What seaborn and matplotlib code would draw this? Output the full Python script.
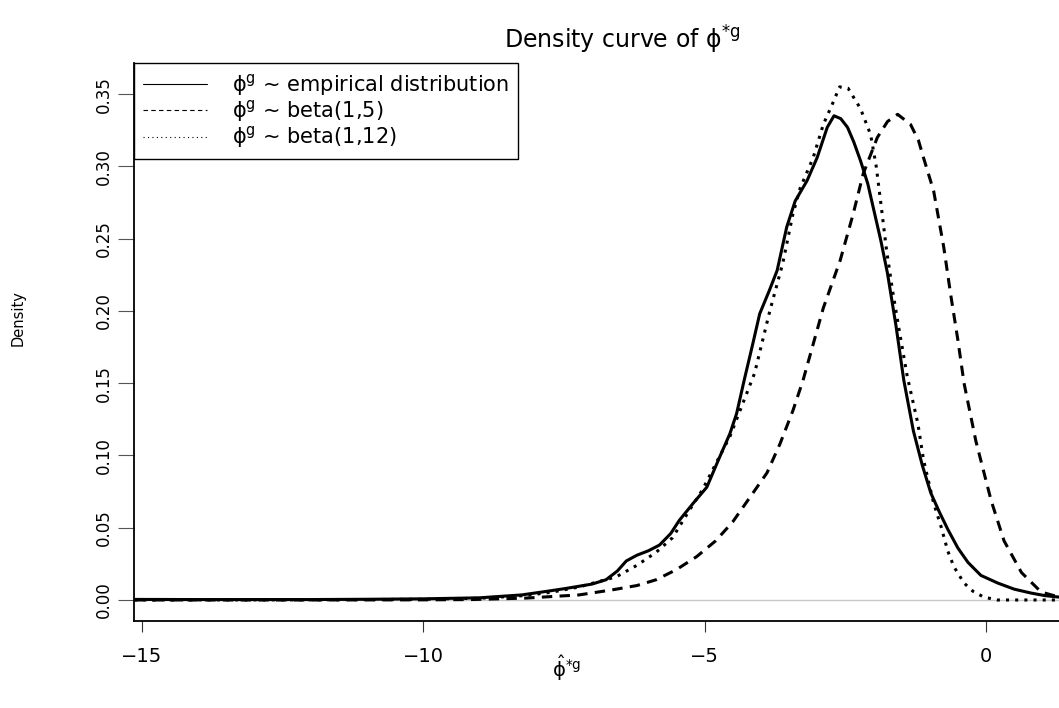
import numpy as np
import pandas as pd
import matplotlib
matplotlib.use("Agg")
import matplotlib.pyplot as plt
from matplotlib.lines import Line2D
import seaborn as sns

# Density of phi*g under the empirical prior
empirical_x = [-15.13, -14.0, -13.0, -12.0, -11.0, -10.0, -9.0, -8.25, -7.8, -7.46,
               -7.0, -6.75, -6.55, -6.39, -6.2, -6.0, -5.8, -5.6, -5.45, -5.2,
               -4.96, -4.73, -4.55, -4.43, -4.29, -4.15, -4.02, -3.85, -3.71, -3.54,
               -3.39, -3.18, -3.0, -2.82, -2.7, -2.58, -2.46, -2.35, -2.23, -2.1,
               -2.0, -1.87, -1.75, -1.6, -1.46, -1.29, -1.13, -0.98, -0.83, -0.68,
               -0.5, -0.32, -0.09, 0.21, 0.5, 0.8, 1.05, 1.3]
empirical_y = [0.0004, 0.0003, 0.0003, 0.0003, 0.0005, 0.0008, 0.0015, 0.0035, 0.006, 0.008,
               0.011, 0.014, 0.020, 0.027, 0.031, 0.034, 0.038, 0.046, 0.055, 0.067,
               0.078, 0.099, 0.115, 0.129, 0.153, 0.176, 0.198, 0.214, 0.228, 0.258,
               0.276, 0.290, 0.306, 0.327, 0.335, 0.333, 0.327, 0.317, 0.304, 0.288,
               0.271, 0.249, 0.226, 0.190, 0.152, 0.117, 0.093, 0.074, 0.061, 0.049,
               0.036, 0.026, 0.017, 0.0117, 0.0075, 0.0048, 0.003, 0.002]

# Density under a beta(1,5) prior
beta5_x = [-15.13, -12.0, -10.0, -9.14, -8.18, -7.23, -6.64, -6.2, -5.86, -5.5,
           -5.14, -4.8, -4.5, -4.14, -3.89, -3.66, -3.43, -3.25, -3.07, -2.89,
           -2.59, -2.36, -2.18, -1.93, -1.75, -1.57, -1.34, -1.2, -1.11, -0.93,
           -0.75, -0.63, -0.5, -0.39, -0.18, 0.09, 0.32, 0.63, 0.98, 1.3]
beta5_y = [0.0, 0.0, 0.0001, 0.0003, 0.0013, 0.0035, 0.007, 0.010, 0.014, 0.021,
           0.030, 0.041, 0.054, 0.074, 0.088, 0.108, 0.131, 0.152, 0.177, 0.202,
           0.235, 0.267, 0.295, 0.320, 0.331, 0.336, 0.329, 0.318, 0.306, 0.283,
           0.244, 0.212, 0.180, 0.150, 0.110, 0.069, 0.041, 0.019, 0.0055, 0.002]

# Density under a beta(1,12) prior
beta12_x = [-15.13, -12.0, -10.0, -9.0, -8.2, -7.7, -7.23, -6.57, -6.2, -5.86,
            -5.57, -5.27, -5.04, -4.79, -4.55, -4.32, -4.11, -3.84, -3.61, -3.43,
            -3.3, -3.07, -2.89, -2.73, -2.6, -2.45, -2.23, -2.05, -1.95, -1.86,
            -1.77, -1.66, -1.53, -1.40, -1.21, -1.11, -0.93, -0.8, -0.68, -0.57,
            -0.39, -0.23, -0.04, 0.2, 1.3]
beta12_y = [0.0, 0.0001, 0.0005, 0.0012, 0.003, 0.0055, 0.009, 0.016, 0.024, 0.033,
            0.043, 0.062, 0.076, 0.095, 0.113, 0.136, 0.157, 0.200, 0.233, 0.267,
            0.285, 0.306, 0.329, 0.343, 0.355, 0.354, 0.340, 0.322, 0.300, 0.272,
            0.243, 0.214, 0.184, 0.155, 0.122, 0.097, 0.067, 0.051, 0.034, 0.023,
            0.0117, 0.006, 0.002, 0.0, 0.0]

x_ticks = [-15, -10, -5, 0]
y_ticks = [0.00, 0.05, 0.10, 0.15, 0.20, 0.25, 0.30, 0.35]
legend_labels = [r"$\mathrm{\phi}^{\mathrm{g}}$ ~ empirical distribution",
                 r"$\mathrm{\phi}^{\mathrm{g}}$ ~ beta(1,5)",
                 r"$\mathrm{\phi}^{\mathrm{g}}$ ~ beta(1,12)"]

sns.set_style("white")
plt.rcParams["font.family"] = ["DejaVu Sans"]
plt.rcParams["mathtext.fontset"] = "dejavusans"
plt.rcParams["text.color"] = "black"
plt.rcParams["xtick.color"] = "black"
plt.rcParams["ytick.color"] = "black"

W, H = 1059, 708
fig = plt.figure(figsize=(W / 100, H / 100), dpi=100)
ax = fig.add_axes([134.3 / W, 1 - 620.7 / H, 1 - 134.3 / W, (620.7 - 63.3) / H])

ax.axhline(0, color="#c8c8c8", lw=1.0, zorder=1)

lw = 2.2
sns.lineplot(x=empirical_x, y=empirical_y, ax=ax, color="black", lw=lw,
             legend=False, zorder=3)
sns.lineplot(x=beta5_x, y=beta5_y, ax=ax, color="black", lw=lw,
             legend=False, zorder=3, linestyle=(0, (3.4, 2.4)))
sns.lineplot(x=beta12_x, y=beta12_y, ax=ax, color="black", lw=lw,
             legend=False, zorder=3, linestyle=(0, (1.0, 2.0)))

ax.set_xlim(-15.13, 1.297)
ax.set_ylim(-0.01433, 0.3713)
ax.set_xticks(x_ticks)
ax.set_xticklabels([f"\u2212{abs(t)}" if t < 0 else f"{t}" for t in x_ticks])
ax.set_yticks(y_ticks)
ax.set_yticklabels([f"{t:.2f}" for t in y_ticks], rotation=90, va="center")
ax.set_xlabel("")
ax.set_ylabel("")

for side in ("top", "right"):
    ax.spines[side].set_visible(False)
for side in ("left", "bottom"):
    ax.spines[side].set_color("black")
    ax.spines[side].set_linewidth(1.3)

ax.tick_params(axis="x", bottom=True, direction="out", length=8, width=0.8,
               color="#333333", labelcolor="black", labelsize=14, pad=11)
ax.tick_params(axis="y", left=True, direction="out", length=11.5, width=0.8,
               color="#555555", labelcolor="black", labelsize=12, pad=4)
ax.grid(False)

handles = [Line2D([], [], color="black", lw=0.8),
           Line2D([], [], color="black", lw=0.8, linestyle=(0, (4, 3))),
           Line2D([], [], color="black", lw=0.8, linestyle=(0, (1, 3)))]
leg = ax.legend(handles, legend_labels, loc="upper left", bbox_to_anchor=(0, 1),
                borderaxespad=0, fontsize=15, frameon=True, fancybox=False,
                framealpha=1, edgecolor="black", handlelength=3.1,
                handletextpad=1.2, borderpad=0.4, labelspacing=0.02)
leg.get_frame().set_linewidth(1.0)
for t in leg.get_texts():
    t.set_color("black")

fig.text(622 / W, 1 - 40 / H, r"Density curve of $\mathrm{\phi}^{\mathrm{*g}}$",
         ha="center", va="center", fontsize=17)
fig.text(567 / W, 1 - 668 / H, r"$\hat{\mathrm{\phi}}^{\mathrm{*g}}$",
         ha="center", va="center", fontsize=14)
fig.text(18 / W, 1 - 318 / H, "Density", rotation=90, ha="center", va="center",
         fontsize=10.5)

fig.savefig("out.png", dpi=100)
